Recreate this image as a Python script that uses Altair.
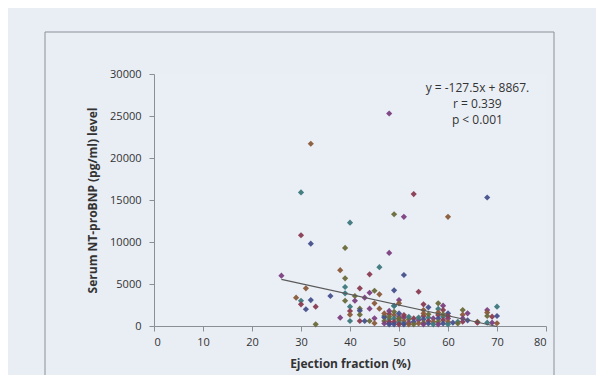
import altair as alt
import pandas as pd

# Ejection fraction (%) and NT-proBNP (pg/ml)
ef = [48, 32, 30, 53, 68, 49, 51, 60, 40, 30, 32, 39, 48,
      38, 46, 44, 51, 39, 26,
      31, 39, 42, 49, 45, 44, 46, 39, 54,
      36, 41, 43, 29, 30, 30, 32, 39, 41, 45, 40, 33, 31, 42, 44, 46, 49, 40, 42, 42, 38, 40,
      40, 42, 43, 44, 45, 45, 47, 48, 48, 33,
      50, 50, 49, 55, 56, 58, 59, 55, 58, 59, 60, 63, 64, 63, 62, 63, 64, 66,
      68, 68, 70, 69, 70, 68, 69, 70, 68, 66,
      47, 47, 47, 47, 48, 48, 48, 48, 48, 49, 49, 49, 49, 49,
      50, 50, 50, 50, 50, 50, 51, 51, 51, 51, 51, 52, 52, 52, 52,
      53, 53, 53, 54, 54, 54, 55, 55, 55, 55, 55, 56, 56, 56, 56,
      57, 57, 57, 58, 58, 58, 58, 58, 59, 59, 59, 59, 60, 60, 60, 60,
      61, 62, 63]
bnp = [25300, 21700, 15900, 15700, 15300, 13300, 13000, 13000, 12300, 10800, 9800, 9300, 8700,
       6650, 7000, 6150, 6070, 5670, 5990,
       4480, 4640, 4480, 4250, 4200, 3960, 3770, 3890, 4080,
       3570, 3570, 3370, 3370, 3010, 2580, 3090, 3010, 3010, 2700, 2300, 2300, 1990, 2060, 2060, 2060, 2400, 1790, 1830, 1350, 990, 1350,
       600, 600, 600, 600, 910, 330, 1190, 1430, 330, 200,
       3090, 2700, 2380, 2580, 2220, 2700, 2420, 1900, 2030, 1900, 1510, 1900, 1510, 1350, 510, 510, 670, 510,
       1900, 1600, 2300, 1110, 1190, 1190, 400, 330, 400, 400,
       1000, 600, 300, 1500, 800, 500, 200, 1100, 1800, 1300, 900, 500, 200, 1700,
       1100, 700, 400, 200, 1500, 900, 1000, 600, 300, 1300, 200, 800, 400, 200, 1100,
       900, 500, 200, 700, 300, 1000, 1200, 800, 400, 200, 1500, 1000, 600, 300, 1400,
       900, 500, 200, 1300, 900, 500, 200, 1600, 1100, 700, 300, 1400, 900, 500, 200, 1200,
       400, 300, 900]

palette = ["#7b3f80", "#8b5a3a", "#3d787c", "#8a3b50", "#46508c", "#6a6a3a"]

slope = -127.5
intercept = 8867
trend_x = [26, 70]

note_lines = ["y = -127.5x + 8867.", "r = 0.339", "p < 0.001"]
note_x = [66.0, 66.0, 66.0]
note_y = [28300, 26400, 24500]

df = pd.DataFrame({"ef": ef, "bnp": bnp})
df["grp"] = [str(i % len(palette)) for i in range(len(df))]
tr = pd.DataFrame({"ef": trend_x})
notes = pd.DataFrame({"t": note_lines, "x": note_x, "y": note_y})

FONT = "Open Sans"
xscale = alt.Scale(domain=[0, 80], nice=False)
yscale = alt.Scale(domain=[0, 30000], nice=False)

box = alt.Chart(pd.DataFrame({"a": [0]})).mark_rect(
    fill=None, stroke="#8a8f96", strokeWidth=1
).encode(x=alt.value(-109), x2=alt.value(400), y=alt.value(-42), y2=alt.value(340))

points = alt.Chart(df).mark_point(shape="diamond", filled=True, size=38, opacity=0.95).encode(
    x=alt.X("ef:Q", scale=xscale,
            axis=alt.Axis(title="Ejection fraction (%)", values=list(range(0, 81, 10)),
                          grid=False, tickSize=5, labelPadding=5, titlePadding=11)),
    y=alt.Y("bnp:Q", scale=yscale,
            axis=alt.Axis(title="Serum NT-proBNP (pg/ml) level", values=list(range(0, 30001, 5000)),
                          grid=False, tickSize=5, labelPadding=8, titlePadding=10, format="d")),
    color=alt.Color("grp:N", scale=alt.Scale(domain=[str(i) for i in range(len(palette))], range=palette), legend=None),
)

line = alt.Chart(tr).transform_calculate(
    bnp=f"{slope}*datum.ef + {intercept}"
).mark_line(color="#5a5a5a", strokeWidth=1.2).encode(
    x=alt.X("ef:Q", scale=xscale), y=alt.Y("bnp:Q", scale=yscale)
)

text = alt.Chart(notes).mark_text(font=FONT, fontSize=12, color="#333333", align="center").encode(
    x=alt.X("x:Q", scale=xscale), y=alt.Y("y:Q", scale=yscale), text="t:N"
)

chart = alt.layer(box, points, line, text).properties(
    width=392, height=252,
    autosize=alt.AutoSizeParams(type="none"),
    padding={"left": 146, "top": 66, "right": 50, "bottom": 49},
    background="#e9eef5",
).configure_view(stroke=None, fill="#eaeff6").configure_axis(
    domainColor="#8a8f96", tickColor="#8a8f96", labelColor="#333333", titleColor="#333333",
    labelFont=FONT, titleFont=FONT, labelFontSize=11, titleFontSize=12, titleFontWeight="bold"
)

chart.save("out.html", embed_options={"renderer": "svg", "actions": False})
